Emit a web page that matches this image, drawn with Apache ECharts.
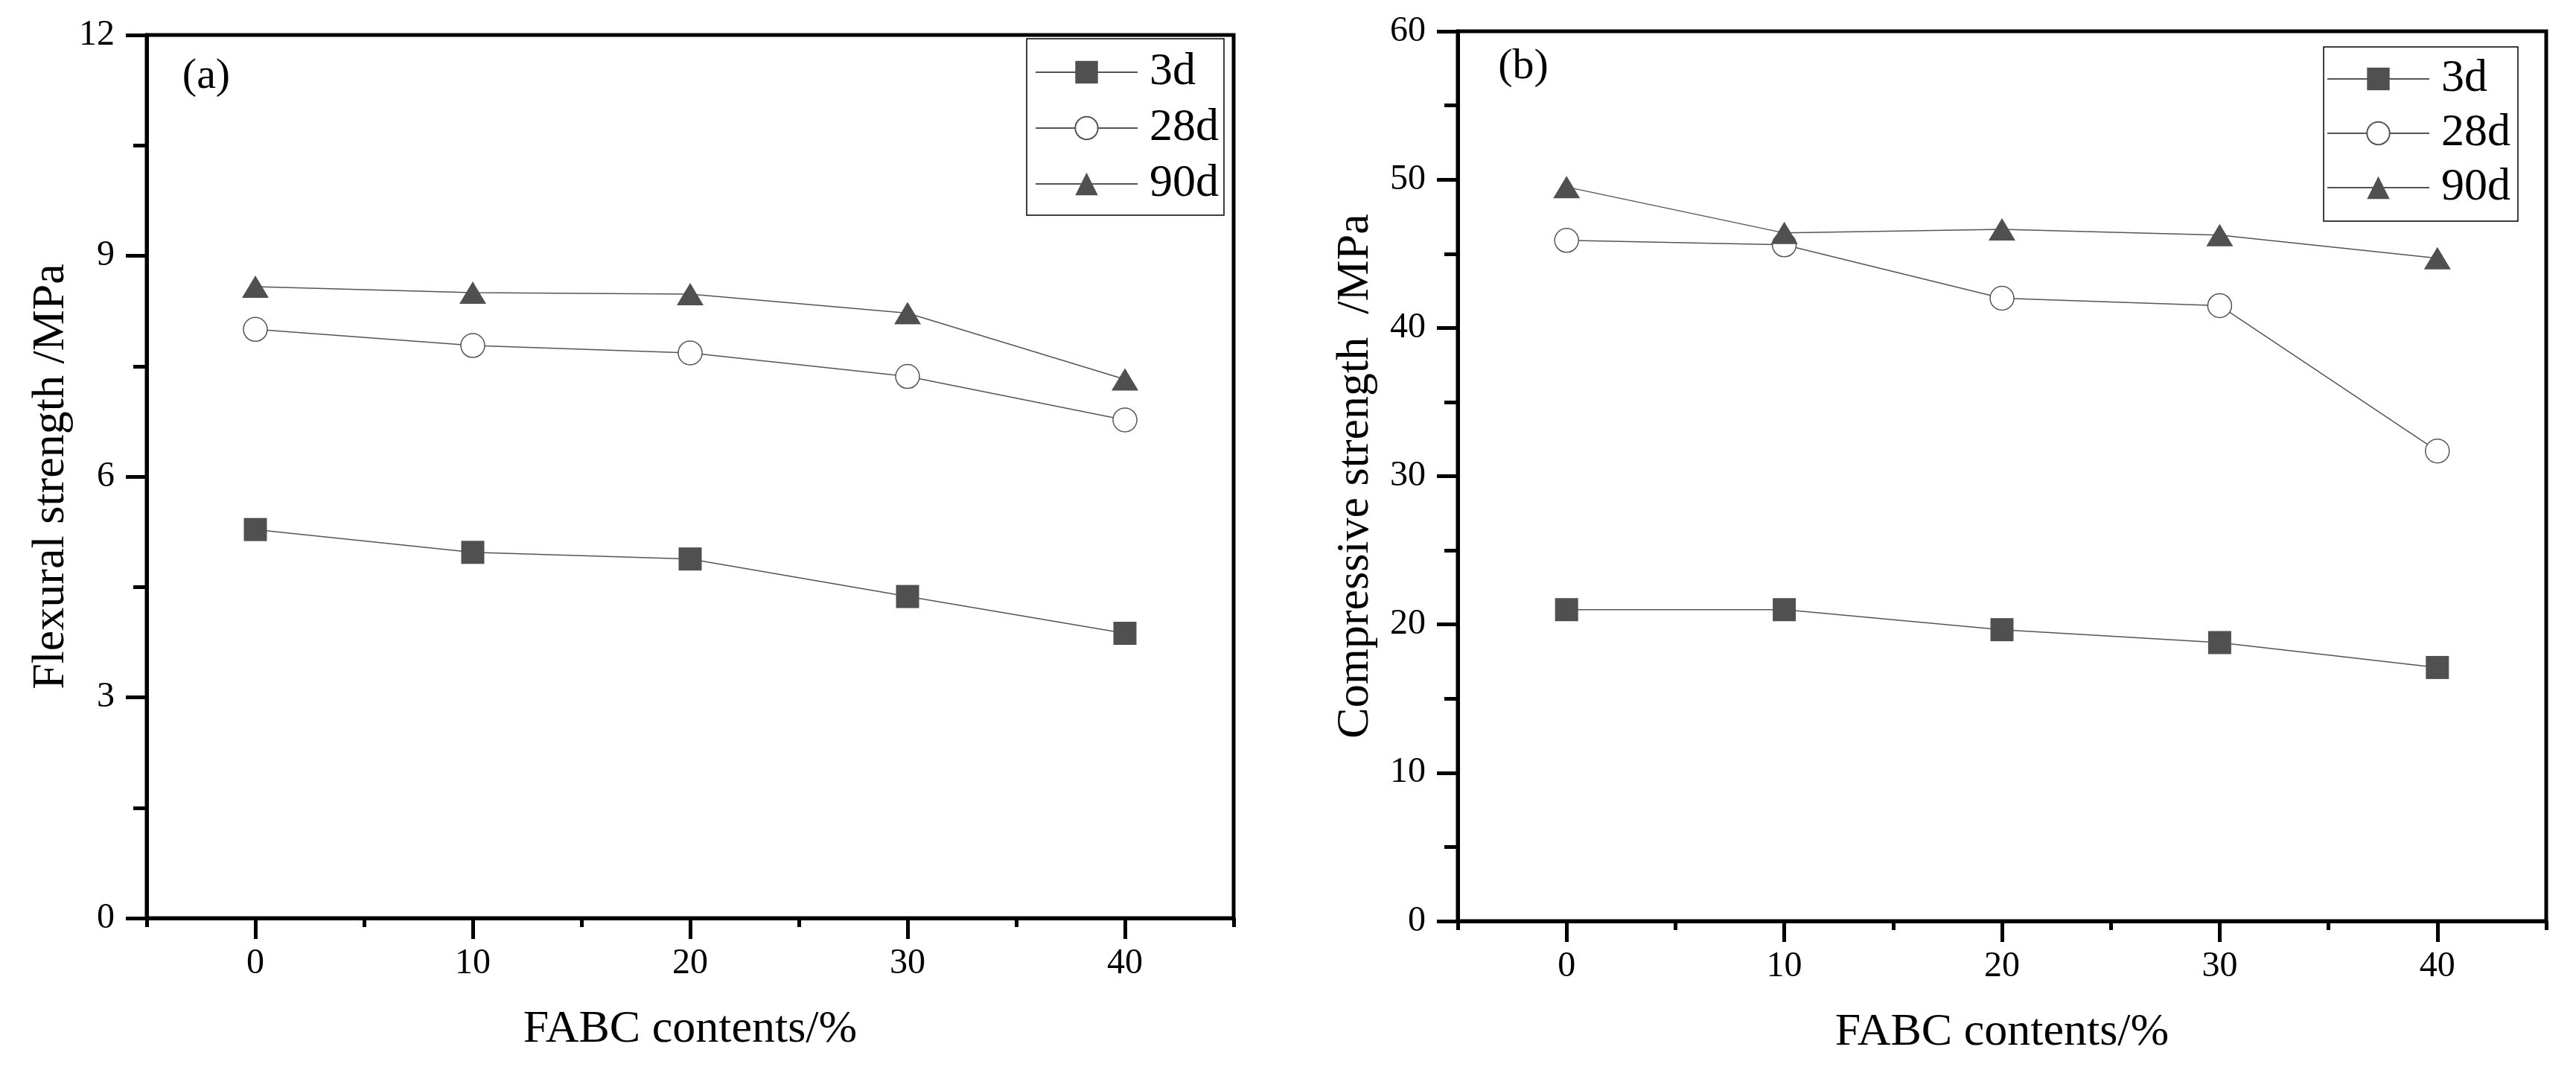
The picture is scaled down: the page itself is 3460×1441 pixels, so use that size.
<!DOCTYPE html>
<html>
<head>
<meta charset="utf-8">
<title>FABC strength</title>
<script src="https://cdn.jsdelivr.net/npm/echarts@6.0.0/dist/echarts.min.js"></script>
<style>
  html, body { margin: 0; padding: 0; background: #fff; }
  #chart { width: 3460px; height: 1441px; }
</style>
</head>
<body>
<div id="chart"></div>
<script>
// FABC content (%) on the x axis
const contents = [0, 10, 20, 30, 40];

// (a) flexural strength, MPa
const flex3d = [5.28, 4.97, 4.88, 4.37, 3.87];
const flex28d = [8.0, 7.78, 7.68, 7.36, 6.77];
const flex90d = [8.58, 8.5, 8.48, 8.22, 7.32];

// (b) compressive strength, MPa
const comp3d = [21.0, 21.0, 19.65, 18.78, 17.1];
const comp28d = [45.9, 45.6, 42.0, 41.5, 31.7];
const comp90d = [49.5, 46.4, 46.65, 46.25, 44.7];

// tick positions
const xMajorTicks = [0, 10, 20, 30, 40];
const xMinorTicks = [-5, 5, 15, 25, 35, 45];

const FONT = 'Liberation Serif';
const lineColor = '#555';
const markFill = '#505050';

const chart = echarts.init(document.getElementById('chart'));

const pairs = (ys) => contents.map((x, i) => [x, ys[i]]);

function makeSeries(name, ys, idx, kind) {
  const s = {
    name: name,
    type: 'line',
    xAxisIndex: idx * 2,
    yAxisIndex: idx,
    data: pairs(ys),
    lineStyle: { color: lineColor, width: 1.5 },
    animation: false
  };
  if (kind === 'rect') {
    s.symbol = 'rect';
    s.symbolSize = 31;
    s.itemStyle = { color: markFill };
  } else if (kind === 'circle') {
    s.symbol = 'circle';
    s.symbolSize = 32;
    s.itemStyle = { color: '#fff', borderColor: lineColor, borderWidth: 1.5 };
  } else {
    s.symbol = 'triangle';
    s.symbolSize = [36, 30];
    s.itemStyle = { color: markFill };
  }
  return s;
}

function xAxes(gridIndex) {
  return [
    {
      gridIndex: gridIndex, type: 'value', min: -5, max: 45, interval: 5,
      axisLine: { onZero: false, lineStyle: { color: '#000', width: 5 } },
      axisTick: { length: 28, lineStyle: { color: '#000', width: 5 }, customValues: xMajorTicks },
      axisLabel: { customValues: xMajorTicks, margin: 37, color: '#000', fontFamily: FONT, fontSize: 48 },
      splitLine: { show: false },
      name: 'FABC contents/%', nameLocation: 'middle', nameGap: 119,
      nameTextStyle: { color: '#000', fontFamily: FONT, fontSize: 62 }
    },
    {
      gridIndex: gridIndex, type: 'value', min: -5, max: 45, interval: 5, position: 'bottom',
      axisLine: { show: false, onZero: false },
      axisTick: { length: 12, lineStyle: { color: '#000', width: 5 }, customValues: xMinorTicks },
      axisLabel: { show: false },
      splitLine: { show: false }
    }
  ];
}

function yAxis(gridIndex, max, interval, name, gap) {
  return {
    gridIndex: gridIndex, type: 'value', min: 0, max: max, interval: interval,
    axisLine: { show: true, onZero: false, lineStyle: { color: '#000', width: 5 } },
    axisTick: { show: true, length: 28, lineStyle: { color: '#000', width: 5 } },
    minorTick: { show: true, splitNumber: 2, length: 18, lineStyle: { color: '#000', width: 5 } },
    axisLabel: { margin: 43, color: '#000', fontFamily: FONT, fontSize: 48 },
    splitLine: { show: false },
    name: name, nameLocation: 'middle', nameGap: gap,
    nameTextStyle: { color: '#000', fontFamily: FONT, fontSize: 62 }
  };
}

function legend(left, top, padding, gap) {
  return {
    orient: 'vertical', left: left, top: top, padding: padding,
    itemWidth: 137, itemHeight: 38, itemGap: gap,
    borderColor: '#000', borderWidth: 1.5,
    data: ['3d', '28d', '90d'],
    textStyle: { color: '#000', fontFamily: FONT, fontSize: 62, padding: [0, 0, 0, 11] }
  };
}

const option = {
  backgroundColor: '#fff',
  animation: false,
  grid: [
    { left: 197, top: 47, right: 1803, bottom: 208, show: true, borderColor: '#000', borderWidth: 5 },
    { left: 1958, top: 42, right: 40, bottom: 204, show: true, borderColor: '#000', borderWidth: 5 }
  ],
  xAxis: xAxes(0).concat(xAxes(1)),
  yAxis: [
    yAxis(0, 12, 3, 'Flexural strength /MPa', 97),
    yAxis(1, 60, 10, 'Compressive strength  /MPa', 106)
  ],
  legend: [
    legend(1379, 52, [14, 7, 11, 11], 13),
    legend(3121, 63, [12, 10, 14, 4], 11)
  ],
  graphic: [
    { type: 'text', x: 277, y: 103, style: { text: '(a)', fontFamily: FONT, fontSize: 58, fill: '#000', align: 'center', verticalAlign: 'middle' } },
    { type: 'text', x: 2046, y: 90, style: { text: '(b)', fontFamily: FONT, fontSize: 58, fill: '#000', align: 'center', verticalAlign: 'middle' } }
  ],
  series: [
    makeSeries('3d', flex3d, 0, 'rect'),
    makeSeries('28d', flex28d, 0, 'circle'),
    makeSeries('90d', flex90d, 0, 'triangle'),
    makeSeries('3d', comp3d, 1, 'rect'),
    makeSeries('28d', comp28d, 1, 'circle'),
    makeSeries('90d', comp90d, 1, 'triangle')
  ]
};

chart.setOption(option);
</script>
</body>
</html>
